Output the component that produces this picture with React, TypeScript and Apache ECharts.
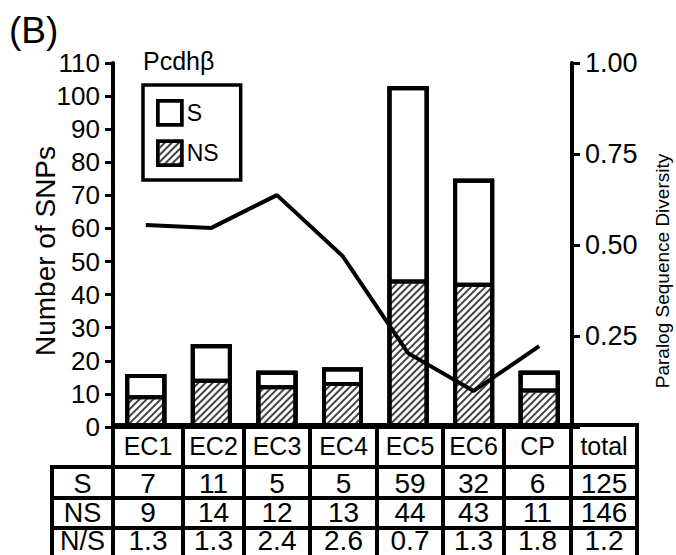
import React, { useEffect, useRef } from 'react';
import * as echarts from 'echarts';

const categories = ['EC1', 'EC2', 'EC3', 'EC4', 'EC5', 'EC6', 'CP'];
const sValues = [7, 11, 5, 5, 59, 32, 6];
const nsValues = [9, 14, 12, 13, 44, 43, 11];
const nsRatio = ['1.3', '1.3', '2.4', '2.6', '0.7', '1.3', '1.8'];
const totalLabel = 'total';
const totalS = 125;
const totalNS = 146;
const totalRatio = '1.2';
const diversity = [0.555, 0.547, 0.637, 0.47, 0.203, 0.099, 0.222];
const rowLabels = ['S', 'NS', 'N/S'];
const leftAxis = { min: 0, max: 110, interval: 10 };
const rightAxis = { min: 0, max: 1, interval: 0.25 };

const FONT = '"Liberation Sans", Arial, Helvetica, sans-serif';

// table layout (pixels)
const colEdges = [113, 183, 244, 310, 377, 443, 504, 571, 637];
const rowEdges = [425, 467, 498, 528, 560];
const rowTextY = [446, 483.5, 512.5, 540.5];
const labelLeft = 52;

function buildTable() {
  const els: any[] = [];
  const lw = 4;
  const line = (x1: number, y1: number, x2: number, y2: number) => ({
    type: 'line',
    shape: { x1, y1, x2, y2 },
    style: { stroke: '#000', lineWidth: lw, lineCap: 'square' },
    z: 10,
  });
  const right = colEdges[colEdges.length - 1];
  const bottom = rowEdges[rowEdges.length - 1];
  els.push(line(colEdges[0], rowEdges[0], right, rowEdges[0]));
  for (let r = 1; r < rowEdges.length; r++) {
    els.push(line(labelLeft, rowEdges[r], right, rowEdges[r]));
  }
  colEdges.forEach((x) => els.push(line(x, rowEdges[0], x, bottom)));
  els.push(line(labelLeft, rowEdges[1], labelLeft, bottom));

  const txt = (text: string, x: number, y: number, size: number) => ({
    type: 'text',
    x,
    y,
    style: {
      text,
      fill: '#000',
      font: `${size}px ${FONT}`,
      textAlign: 'center',
      textVerticalAlign: 'middle',
    },
    z: 11,
  });
  const header = [...categories, totalLabel];
  const rows = [
    [...sValues.map(String), String(totalS)],
    [...nsValues.map(String), String(totalNS)],
    [...nsRatio, totalRatio],
  ];
  header.forEach((h, i) => {
    const cx = (colEdges[i] + colEdges[i + 1]) / 2;
    els.push(txt(h, cx, rowTextY[0], 25));
  });
  rows.forEach((row, r) => {
    const cy = rowTextY[r + 1];
    els.push(txt(rowLabels[r], (labelLeft + colEdges[0]) / 2, cy, 27));
    row.forEach((v, i) => {
      const cx = (colEdges[i] + colEdges[i + 1]) / 2;
      els.push(txt(v, cx, cy, 28));
    });
  });
  return els;
}

const noDecal = { symbol: 'rect', color: 'rgba(255,255,255,0)' };

export default function App() {
  const ref = useRef<HTMLDivElement>(null);
  useEffect(() => {
    document.body.style.margin = '0';
    const chart = echarts.init(ref.current!, null, { renderer: 'svg' });
    const barTotals = sValues.map((s, i) => s + nsValues[i]);
    const option: any = {
      animation: false,
      aria: { enabled: true, decal: { show: true } },
      textStyle: { fontFamily: FONT, color: '#000' },
      title: [
        { text: '(B)', left: 9, top: 12, padding: 0, textStyle: { fontSize: 37, fontWeight: 'normal', color: '#000', fontFamily: FONT } },
        { text: 'Pcdhβ', left: 143, top: 48, padding: 0, textStyle: { fontSize: 25, fontWeight: 'normal', color: '#000', fontFamily: FONT } },
      ],
      legend: {
        data: ['S', 'NS'],
        orient: 'vertical',
        left: 143,
        top: 85,
        padding: [14, 22, 13, 13],
        borderColor: '#000',
        borderWidth: 3.5,
        itemWidth: 24,
        itemHeight: 24,
        itemGap: 13,
        icon: 'rect',
        itemStyle: { borderColor: '#000', borderWidth: 3.5 },
        textStyle: { fontSize: 23, color: '#000', fontFamily: FONT },
      },
      grid: { left: 113, right: 104, top: 63, bottom: 128, containLabel: false, outerBoundsMode: 'none' },
      xAxis: {
        type: 'category',
        data: categories,
        axisLine: { lineStyle: { color: '#000', width: 4 } },
        axisTick: { show: false },
        axisLabel: { show: false },
      },
      yAxis: [
        {
          type: 'value',
          min: leftAxis.min,
          max: leftAxis.max,
          interval: leftAxis.interval,
          name: 'Number of SNPs',
          nameLocation: 'middle',
          nameRotate: 90,
          nameGap: 54,
          nameMoveOverlap: false,
          nameTextStyle: { fontSize: 28, color: '#000', fontFamily: FONT, padding: [0, 12, 0, 0] },
          axisLine: { show: true, lineStyle: { color: '#000', width: 4 } },
          axisTick: { show: true, length: 8, lineStyle: { color: '#000', width: 3 } },
          axisLabel: { fontSize: 26, color: '#000', margin: 13, fontFamily: FONT },
          splitLine: { show: false },
        },
        {
          type: 'value',
          position: 'right',
          min: rightAxis.min,
          max: rightAxis.max,
          interval: rightAxis.interval,
          name: 'Paralog Sequence Diversity',
          nameLocation: 'middle',
          nameRotate: 90,
          nameGap: 81,
          nameTextStyle: { fontSize: 19, color: '#000', fontFamily: FONT, padding: [0, 52, 0, 0] },
          axisLine: { show: true, lineStyle: { color: '#000', width: 4 } },
          axisTick: { show: true, length: 8, lineStyle: { color: '#000', width: 3 } },
          axisLabel: {
            fontSize: 27,
            color: '#000',
            margin: 13,
            fontFamily: FONT,
            formatter: (v: number) => (v === 0 ? '' : v.toFixed(2)),
          },
          splitLine: { show: false },
        },
      ],
      series: [
        {
          name: 'NS',
          type: 'bar',
          stack: 'snp',
          barWidth: 41,
          barGap: '-100%',
          data: nsValues,
          itemStyle: {
            color: '#fff',
            borderColor: '#000',
            borderWidth: 2,
            decal: {
              symbol: 'rect',
              symbolSize: 1,
              dashArrayX: [1, 0],
              dashArrayY: [1.3, 3],
              rotation: -Math.PI / 4,
              color: '#444',
            },
          },
        },
        {
          name: 'S',
          type: 'bar',
          stack: 'snp',
          barWidth: 41,
          barGap: '-100%',
          data: sValues,
          itemStyle: { color: '#fff', borderColor: '#000', borderWidth: 2, decal: noDecal },
        },
        {
          name: 'outline',
          type: 'bar',
          barWidth: 41,
          barGap: '-100%',
          data: barTotals,
          z: 3,
          silent: true,
          itemStyle: { color: 'rgba(255,255,255,0)', borderColor: '#000', borderWidth: 4, decal: noDecal },
        },
        {
          name: 'Diversity',
          type: 'line',
          yAxisIndex: 1,
          data: diversity,
          symbol: 'none',
          lineStyle: { color: '#000', width: 4 },
          z: 5,
        },
      ],
      graphic: buildTable(),
    };
    chart.setOption(option);
    return () => chart.dispose();
  }, []);
  return <div ref={ref} style={{ width: 676, height: 555 }} />;
}
